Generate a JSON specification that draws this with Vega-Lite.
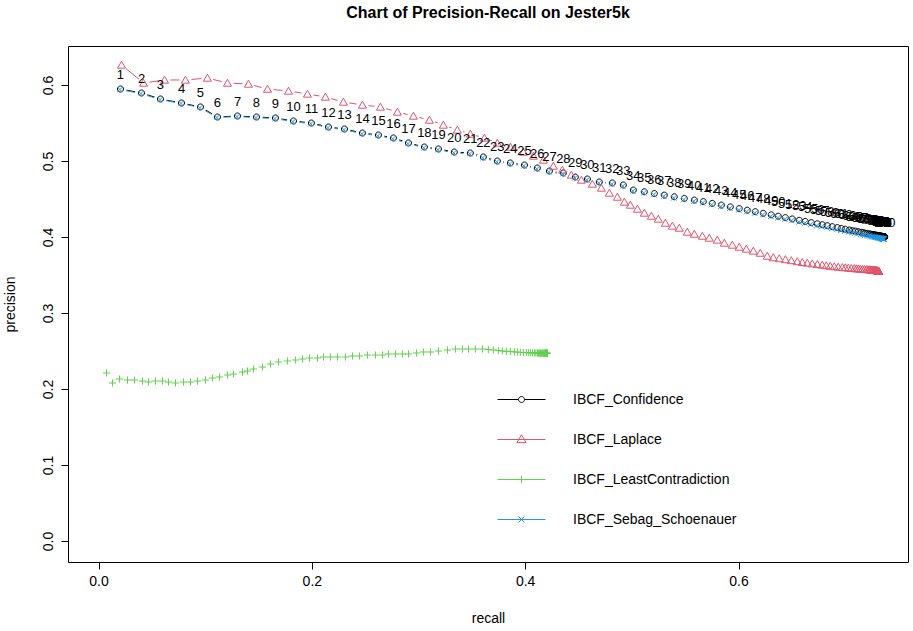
{
"$schema": "https://vega.github.io/schema/vega-lite/v6.json",
"width": 840, "height": 516,
"autosize": {"type": "none"},
"padding": {"left": 68, "top": 46, "right": 5, "bottom": 69},
"background": "white",
"title": {"text": "Chart of Precision-Recall on Jester5k", "font": "Liberation Sans", "fontSize": 16, "fontWeight": "bold", "anchor": "middle", "offset": 25, "color": "black"},
"config": {"view": {"stroke": "black", "strokeWidth": 1}, "font": "Liberation Sans"},
"data": {"values": [
{"s":"C","n":1,"r":0.0206,"p":0.5947},{"s":"C","n":2,"r":0.0403,"p":0.5895},{"s":"C","n":3,"r":0.0581,"p":0.5816},{"s":"C","n":4,"r":0.0778,"p":0.5763},{"s":"C","n":5,"r":0.0956,"p":0.5711},{"s":"C","n":6,"r":0.1115,"p":0.5579},{"s":"C","n":7,"r":0.1303,"p":0.5592},{"s":"C","n":8,"r":0.1481,"p":0.5579},{"s":"C","n":9,"r":0.1659,"p":0.5566},{"s":"C","n":10,"r":0.1828,"p":0.5526},
{"s":"C","n":11,"r":0.1996,"p":0.5500},{"s":"C","n":12,"r":0.2156,"p":0.5447},{"s":"C","n":13,"r":0.2306,"p":0.5421},{"s":"C","n":14,"r":0.2474,"p":0.5368},{"s":"C","n":15,"r":0.2624,"p":0.5342},{"s":"C","n":16,"r":0.2765,"p":0.5303},{"s":"C","n":17,"r":0.2906,"p":0.5237},{"s":"C","n":18,"r":0.3055,"p":0.5184},{"s":"C","n":19,"r":0.3187,"p":0.5158},{"s":"C","n":20,"r":0.3336,"p":0.5118},
{"s":"C","n":21,"r":0.3486,"p":0.5105},{"s":"C","n":22,"r":0.3608,"p":0.5053},{"s":"C","n":23,"r":0.3739,"p":0.5000},{"s":"C","n":24,"r":0.3861,"p":0.4974},{"s":"C","n":25,"r":0.3993,"p":0.4947},{"s":"C","n":26,"r":0.4114,"p":0.4908},{"s":"C","n":27,"r":0.4227,"p":0.4868},{"s":"C","n":28,"r":0.4358,"p":0.4842},{"s":"C","n":29,"r":0.4470,"p":0.4789},{"s":"C","n":30,"r":0.4583,"p":0.4763},
{"s":"C","n":31,"r":0.4695,"p":0.4724},{"s":"C","n":32,"r":0.4817,"p":0.4711},{"s":"C","n":33,"r":0.4920,"p":0.4684},{"s":"C","n":34,"r":0.5014,"p":0.4618},{"s":"C","n":35,"r":0.5117,"p":0.4595},{"s":"C","n":36,"r":0.5211,"p":0.4572},{"s":"C","n":37,"r":0.5304,"p":0.4551},{"s":"C","n":38,"r":0.5398,"p":0.4529},{"s":"C","n":39,"r":0.5492,"p":0.4508},{"s":"C","n":40,"r":0.5586,"p":0.4486},
{"s":"C","n":41,"r":0.5670,"p":0.4466},{"s":"C","n":42,"r":0.5754,"p":0.4443},{"s":"C","n":43,"r":0.5839,"p":0.4420},{"s":"C","n":44,"r":0.5923,"p":0.4396},{"s":"C","n":45,"r":0.6007,"p":0.4374},{"s":"C","n":46,"r":0.6082,"p":0.4353},{"s":"C","n":47,"r":0.6157,"p":0.4333},{"s":"C","n":48,"r":0.6232,"p":0.4312},{"s":"C","n":49,"r":0.6307,"p":0.4292},{"s":"C","n":50,"r":0.6373,"p":0.4274},
{"s":"C","n":51,"r":0.6439,"p":0.4255},{"s":"C","n":52,"r":0.6504,"p":0.4238},{"s":"C","n":53,"r":0.6570,"p":0.4220},{"s":"C","n":54,"r":0.6626,"p":0.4205},{"s":"C","n":55,"r":0.6682,"p":0.4189},{"s":"C","n":56,"r":0.6739,"p":0.4174},{"s":"C","n":57,"r":0.6785,"p":0.4162},{"s":"C","n":58,"r":0.6832,"p":0.4149},{"s":"C","n":59,"r":0.6879,"p":0.4136},{"s":"C","n":60,"r":0.6926,"p":0.4124},
{"s":"C","n":61,"r":0.6964,"p":0.4113},{"s":"C","n":62,"r":0.7001,"p":0.4103},{"s":"C","n":63,"r":0.7038,"p":0.4092},{"s":"C","n":64,"r":0.7067,"p":0.4084},{"s":"C","n":65,"r":0.7095,"p":0.4078},{"s":"C","n":66,"r":0.7123,"p":0.4070},{"s":"C","n":67,"r":0.7151,"p":0.4062},{"s":"C","n":68,"r":0.7170,"p":0.4057},{"s":"C","n":69,"r":0.7188,"p":0.4051},{"s":"C","n":70,"r":0.7207,"p":0.4046},
{"s":"C","n":71,"r":0.7226,"p":0.4042},{"s":"C","n":72,"r":0.7240,"p":0.4038},{"s":"C","n":73,"r":0.7254,"p":0.4034},{"s":"C","n":74,"r":0.7263,"p":0.4032},{"s":"C","n":75,"r":0.7273,"p":0.4029},{"s":"C","n":76,"r":0.7282,"p":0.4026},{"s":"C","n":77,"r":0.7291,"p":0.4024},{"s":"C","n":78,"r":0.7301,"p":0.4021},{"s":"C","n":79,"r":0.7307,"p":0.4020},{"s":"C","n":80,"r":0.7314,"p":0.4017},
{"s":"C","n":81,"r":0.7320,"p":0.4016},{"s":"C","n":82,"r":0.7325,"p":0.4014},{"s":"C","n":83,"r":0.7331,"p":0.4013},{"s":"C","n":84,"r":0.7336,"p":0.4012},{"s":"C","n":85,"r":0.7340,"p":0.4011},{"s":"C","n":86,"r":0.7344,"p":0.4009},{"s":"C","n":87,"r":0.7348,"p":0.4008},{"s":"C","n":88,"r":0.7351,"p":0.4007},{"s":"C","n":89,"r":0.7354,"p":0.4006},{"s":"C","n":90,"r":0.7357,"p":0.4005},
{"s":"C","n":91,"r":0.7359,"p":0.4005},{"s":"C","n":92,"r":0.7361,"p":0.4004},{"s":"C","n":93,"r":0.7363,"p":0.4004},{"s":"C","n":94,"r":0.7364,"p":0.4003},{"s":"C","n":95,"r":0.7366,"p":0.4003},{"s":"C","n":96,"r":0.7367,"p":0.4003},{"s":"C","n":97,"r":0.7368,"p":0.4002},{"s":"C","n":98,"r":0.7369,"p":0.4002},{"s":"C","n":99,"r":0.7370,"p":0.4002},{"s":"C","n":100,"r":0.7371,"p":0.4001},
{"s":"L","n":1,"r":0.0216,"p":0.6263},{"s":"L","n":2,"r":0.0422,"p":0.6026},{"s":"L","n":3,"r":0.0619,"p":0.6066},{"s":"L","n":4,"r":0.0815,"p":0.6066},{"s":"L","n":5,"r":0.1021,"p":0.6092},{"s":"L","n":6,"r":0.1209,"p":0.6026},{"s":"L","n":7,"r":0.1406,"p":0.6013},{"s":"L","n":8,"r":0.1584,"p":0.5947},{"s":"L","n":9,"r":0.1781,"p":0.5921},{"s":"L","n":10,"r":0.1959,"p":0.5882},
{"s":"L","n":11,"r":0.2127,"p":0.5842},{"s":"L","n":12,"r":0.2296,"p":0.5776},{"s":"L","n":13,"r":0.2474,"p":0.5737},{"s":"L","n":14,"r":0.2643,"p":0.5711},{"s":"L","n":15,"r":0.2802,"p":0.5645},{"s":"L","n":16,"r":0.2952,"p":0.5592},{"s":"L","n":17,"r":0.3102,"p":0.5539},{"s":"L","n":18,"r":0.3233,"p":0.5474},{"s":"L","n":19,"r":0.3364,"p":0.5408},{"s":"L","n":20,"r":0.3486,"p":0.5355},
{"s":"L","n":21,"r":0.3618,"p":0.5303},{"s":"L","n":22,"r":0.3739,"p":0.5237},{"s":"L","n":23,"r":0.3861,"p":0.5184},{"s":"L","n":24,"r":0.3983,"p":0.5118},{"s":"L","n":25,"r":0.4077,"p":0.5066},{"s":"L","n":26,"r":0.4171,"p":0.5013},{"s":"L","n":27,"r":0.4264,"p":0.4934},{"s":"L","n":28,"r":0.4349,"p":0.4882},{"s":"L","n":29,"r":0.4433,"p":0.4816},{"s":"L","n":30,"r":0.4527,"p":0.4750},
{"s":"L","n":31,"r":0.4630,"p":0.4697},{"s":"L","n":32,"r":0.4714,"p":0.4645},{"s":"L","n":33,"r":0.4789,"p":0.4579},{"s":"L","n":34,"r":0.4864,"p":0.4526},{"s":"L","n":35,"r":0.4930,"p":0.4461},{"s":"L","n":36,"r":0.4986,"p":0.4421},{"s":"L","n":37,"r":0.5052,"p":0.4368},{"s":"L","n":38,"r":0.5117,"p":0.4316},{"s":"L","n":39,"r":0.5183,"p":0.4276},{"s":"L","n":40,"r":0.5248,"p":0.4237},
{"s":"L","n":41,"r":0.5314,"p":0.4184},{"s":"L","n":42,"r":0.5380,"p":0.4145},{"s":"L","n":43,"r":0.5445,"p":0.4118},{"s":"L","n":44,"r":0.5520,"p":0.4066},{"s":"L","n":45,"r":0.5586,"p":0.4039},{"s":"L","n":46,"r":0.5661,"p":0.4013},{"s":"L","n":47,"r":0.5726,"p":0.3987},{"s":"L","n":48,"r":0.5801,"p":0.3961},{"s":"L","n":49,"r":0.5867,"p":0.3921},{"s":"L","n":50,"r":0.5942,"p":0.3895},
{"s":"L","n":51,"r":0.6007,"p":0.3868},{"s":"L","n":52,"r":0.6073,"p":0.3842},{"s":"L","n":53,"r":0.6139,"p":0.3816},{"s":"L","n":54,"r":0.6204,"p":0.3789},{"s":"L","n":55,"r":0.6270,"p":0.3750},{"s":"L","n":56,"r":0.6326,"p":0.3730},{"s":"L","n":57,"r":0.6382,"p":0.3717},{"s":"L","n":58,"r":0.6439,"p":0.3704},{"s":"L","n":59,"r":0.6495,"p":0.3691},{"s":"L","n":60,"r":0.6551,"p":0.3678},
{"s":"L","n":61,"r":0.6598,"p":0.3667},{"s":"L","n":62,"r":0.6645,"p":0.3658},{"s":"L","n":63,"r":0.6692,"p":0.3649},{"s":"L","n":64,"r":0.6739,"p":0.3641},{"s":"L","n":65,"r":0.6785,"p":0.3632},{"s":"L","n":66,"r":0.6823,"p":0.3625},{"s":"L","n":67,"r":0.6860,"p":0.3618},{"s":"L","n":68,"r":0.6898,"p":0.3612},{"s":"L","n":69,"r":0.6935,"p":0.3605},{"s":"L","n":70,"r":0.6973,"p":0.3601},
{"s":"L","n":71,"r":0.7001,"p":0.3597},{"s":"L","n":72,"r":0.7029,"p":0.3593},{"s":"L","n":73,"r":0.7057,"p":0.3589},{"s":"L","n":74,"r":0.7085,"p":0.3587},{"s":"L","n":75,"r":0.7104,"p":0.3584},{"s":"L","n":76,"r":0.7123,"p":0.3582},{"s":"L","n":77,"r":0.7141,"p":0.3579},{"s":"L","n":78,"r":0.7160,"p":0.3576},{"s":"L","n":79,"r":0.7179,"p":0.3575},{"s":"L","n":80,"r":0.7198,"p":0.3574},
{"s":"L","n":81,"r":0.7212,"p":0.3572},{"s":"L","n":82,"r":0.7226,"p":0.3571},{"s":"L","n":83,"r":0.7235,"p":0.3570},{"s":"L","n":84,"r":0.7245,"p":0.3568},{"s":"L","n":85,"r":0.7254,"p":0.3567},{"s":"L","n":86,"r":0.7263,"p":0.3566},{"s":"L","n":87,"r":0.7273,"p":0.3564},{"s":"L","n":88,"r":0.7280,"p":0.3563},{"s":"L","n":89,"r":0.7287,"p":0.3562},{"s":"L","n":90,"r":0.7291,"p":0.3561},
{"s":"L","n":91,"r":0.7296,"p":0.3559},{"s":"L","n":92,"r":0.7301,"p":0.3558},{"s":"L","n":93,"r":0.7303,"p":0.3557},{"s":"L","n":94,"r":0.7306,"p":0.3555},{"s":"L","n":95,"r":0.7308,"p":0.3554},{"s":"L","n":96,"r":0.7310,"p":0.3553},{"s":"L","n":97,"r":0.7312,"p":0.3553},{"s":"L","n":98,"r":0.7313,"p":0.3551},{"s":"L","n":99,"r":0.7314,"p":0.3551},{"s":"L","n":100,"r":0.7315,"p":0.3550},
{"s":"G","n":1,"r":0.0075,"p":0.2211},{"s":"G","n":2,"r":0.0131,"p":0.2079},{"s":"G","n":3,"r":0.0197,"p":0.2132},{"s":"G","n":4,"r":0.0272,"p":0.2118},{"s":"G","n":5,"r":0.0337,"p":0.2118},{"s":"G","n":6,"r":0.0412,"p":0.2105},{"s":"G","n":7,"r":0.0469,"p":0.2092},{"s":"G","n":8,"r":0.0534,"p":0.2105},{"s":"G","n":9,"r":0.0600,"p":0.2105},{"s":"G","n":10,"r":0.0656,"p":0.2092},
{"s":"G","n":11,"r":0.0722,"p":0.2079},{"s":"G","n":12,"r":0.0797,"p":0.2092},{"s":"G","n":13,"r":0.0862,"p":0.2092},{"s":"G","n":14,"r":0.0928,"p":0.2105},{"s":"G","n":15,"r":0.1003,"p":0.2118},{"s":"G","n":16,"r":0.1068,"p":0.2145},{"s":"G","n":17,"r":0.1134,"p":0.2158},{"s":"G","n":18,"r":0.1209,"p":0.2184},{"s":"G","n":19,"r":0.1265,"p":0.2197},{"s":"G","n":20,"r":0.1350,"p":0.2224},
{"s":"G","n":21,"r":0.1397,"p":0.2237},{"s":"G","n":22,"r":0.1453,"p":0.2263},{"s":"G","n":23,"r":0.1537,"p":0.2289},{"s":"G","n":24,"r":0.1612,"p":0.2329},{"s":"G","n":25,"r":0.1687,"p":0.2355},{"s":"G","n":26,"r":0.1771,"p":0.2368},{"s":"G","n":27,"r":0.1846,"p":0.2382},{"s":"G","n":28,"r":0.1912,"p":0.2395},{"s":"G","n":29,"r":0.1978,"p":0.2408},{"s":"G","n":30,"r":0.2053,"p":0.2408},
{"s":"G","n":31,"r":0.2109,"p":0.2421},{"s":"G","n":32,"r":0.2174,"p":0.2421},{"s":"G","n":33,"r":0.2240,"p":0.2421},{"s":"G","n":34,"r":0.2315,"p":0.2421},{"s":"G","n":35,"r":0.2381,"p":0.2434},{"s":"G","n":36,"r":0.2446,"p":0.2434},{"s":"G","n":37,"r":0.2521,"p":0.2447},{"s":"G","n":38,"r":0.2596,"p":0.2447},{"s":"G","n":39,"r":0.2662,"p":0.2447},{"s":"G","n":40,"r":0.2718,"p":0.2461},
{"s":"G","n":41,"r":0.2784,"p":0.2461},{"s":"G","n":42,"r":0.2849,"p":0.2461},{"s":"G","n":43,"r":0.2906,"p":0.2461},{"s":"G","n":44,"r":0.2981,"p":0.2474},{"s":"G","n":45,"r":0.3046,"p":0.2487},{"s":"G","n":46,"r":0.3112,"p":0.2487},{"s":"G","n":47,"r":0.3187,"p":0.2500},{"s":"G","n":48,"r":0.3271,"p":0.2513},{"s":"G","n":49,"r":0.3346,"p":0.2526},{"s":"G","n":50,"r":0.3411,"p":0.2526},
{"s":"G","n":51,"r":0.3468,"p":0.2526},{"s":"G","n":52,"r":0.3533,"p":0.2526},{"s":"G","n":53,"r":0.3599,"p":0.2526},{"s":"G","n":54,"r":0.3655,"p":0.2520},{"s":"G","n":55,"r":0.3702,"p":0.2513},{"s":"G","n":56,"r":0.3749,"p":0.2507},{"s":"G","n":57,"r":0.3786,"p":0.2500},{"s":"G","n":58,"r":0.3824,"p":0.2496},{"s":"G","n":59,"r":0.3861,"p":0.2492},{"s":"G","n":60,"r":0.3899,"p":0.2488},
{"s":"G","n":61,"r":0.3927,"p":0.2486},{"s":"G","n":62,"r":0.3955,"p":0.2483},{"s":"G","n":63,"r":0.3983,"p":0.2480},{"s":"G","n":64,"r":0.4011,"p":0.2479},{"s":"G","n":65,"r":0.4030,"p":0.2478},{"s":"G","n":66,"r":0.4049,"p":0.2476},{"s":"G","n":67,"r":0.4068,"p":0.2475},{"s":"G","n":68,"r":0.4086,"p":0.2474},{"s":"G","n":69,"r":0.4100,"p":0.2474},{"s":"G","n":70,"r":0.4115,"p":0.2474},
{"s":"G","n":71,"r":0.4124,"p":0.2472},{"s":"G","n":72,"r":0.4133,"p":0.2472},{"s":"G","n":73,"r":0.4143,"p":0.2472},{"s":"G","n":74,"r":0.4152,"p":0.2471},{"s":"G","n":75,"r":0.4160,"p":0.2471},{"s":"G","n":76,"r":0.4166,"p":0.2471},{"s":"G","n":77,"r":0.4173,"p":0.2471},{"s":"G","n":78,"r":0.4179,"p":0.2470},{"s":"G","n":79,"r":0.4183,"p":0.2470},{"s":"G","n":80,"r":0.4187,"p":0.2470},
{"s":"G","n":81,"r":0.4189,"p":0.2470},{"s":"G","n":82,"r":0.4191,"p":0.2470},{"s":"G","n":83,"r":0.4192,"p":0.2469},{"s":"G","n":84,"r":0.4194,"p":0.2469},{"s":"G","n":85,"r":0.4195,"p":0.2469},{"s":"G","n":86,"r":0.4196,"p":0.2469},{"s":"G","n":87,"r":0.4197,"p":0.2469},{"s":"G","n":88,"r":0.4198,"p":0.2469},{"s":"G","n":89,"r":0.4199,"p":0.2469},{"s":"G","n":90,"r":0.4200,"p":0.2468},
{"s":"G","n":91,"r":0.4201,"p":0.2468},{"s":"G","n":92,"r":0.4202,"p":0.2468},{"s":"G","n":93,"r":0.4203,"p":0.2468},{"s":"G","n":94,"r":0.4204,"p":0.2468},{"s":"G","n":95,"r":0.4205,"p":0.2468},{"s":"G","n":96,"r":0.4206,"p":0.2468},{"s":"G","n":97,"r":0.4207,"p":0.2468},{"s":"G","n":98,"r":0.4207,"p":0.2468},{"s":"G","n":99,"r":0.4208,"p":0.2468},{"s":"G","n":100,"r":0.4208,"p":0.2468},
{"s":"S","n":1,"r":0.0201,"p":0.5940},{"s":"S","n":2,"r":0.0398,"p":0.5887},{"s":"S","n":3,"r":0.0577,"p":0.5808},{"s":"S","n":4,"r":0.0773,"p":0.5757},{"s":"S","n":5,"r":0.0951,"p":0.5702},{"s":"S","n":6,"r":0.1110,"p":0.5572},{"s":"S","n":7,"r":0.1298,"p":0.5584},{"s":"S","n":8,"r":0.1476,"p":0.5571},{"s":"S","n":9,"r":0.1654,"p":0.5558},{"s":"S","n":10,"r":0.1823,"p":0.5518},
{"s":"S","n":11,"r":0.1991,"p":0.5491},{"s":"S","n":12,"r":0.2151,"p":0.5439},{"s":"S","n":13,"r":0.2301,"p":0.5412},{"s":"S","n":14,"r":0.2469,"p":0.5360},{"s":"S","n":15,"r":0.2619,"p":0.5333},{"s":"S","n":16,"r":0.2760,"p":0.5294},{"s":"S","n":17,"r":0.2901,"p":0.5229},{"s":"S","n":18,"r":0.3050,"p":0.5175},{"s":"S","n":19,"r":0.3182,"p":0.5149},{"s":"S","n":20,"r":0.3331,"p":0.5108},
{"s":"S","n":21,"r":0.3481,"p":0.5096},{"s":"S","n":22,"r":0.3603,"p":0.5043},{"s":"S","n":23,"r":0.3734,"p":0.4990},{"s":"S","n":24,"r":0.3856,"p":0.4964},{"s":"S","n":25,"r":0.3988,"p":0.4936},{"s":"S","n":26,"r":0.4109,"p":0.4897},{"s":"S","n":27,"r":0.4222,"p":0.4857},{"s":"S","n":28,"r":0.4353,"p":0.4831},{"s":"S","n":29,"r":0.4465,"p":0.4778},{"s":"S","n":30,"r":0.4578,"p":0.4751},
{"s":"S","n":31,"r":0.4690,"p":0.4712},{"s":"S","n":32,"r":0.4812,"p":0.4698},{"s":"S","n":33,"r":0.4915,"p":0.4671},{"s":"S","n":34,"r":0.5009,"p":0.4605},{"s":"S","n":35,"r":0.5112,"p":0.4581},{"s":"S","n":36,"r":0.5206,"p":0.4558},{"s":"S","n":37,"r":0.5299,"p":0.4536},{"s":"S","n":38,"r":0.5393,"p":0.4514},{"s":"S","n":39,"r":0.5487,"p":0.4492},{"s":"S","n":40,"r":0.5581,"p":0.4470},
{"s":"S","n":41,"r":0.5665,"p":0.4449},{"s":"S","n":42,"r":0.5749,"p":0.4426},{"s":"S","n":43,"r":0.5834,"p":0.4402},{"s":"S","n":44,"r":0.5918,"p":0.4378},{"s":"S","n":45,"r":0.6002,"p":0.4355},{"s":"S","n":46,"r":0.6077,"p":0.4334},{"s":"S","n":47,"r":0.6152,"p":0.4314},{"s":"S","n":48,"r":0.6227,"p":0.4292},{"s":"S","n":49,"r":0.6302,"p":0.4271},{"s":"S","n":50,"r":0.6368,"p":0.4253},
{"s":"S","n":51,"r":0.6434,"p":0.4233},{"s":"S","n":52,"r":0.6499,"p":0.4216},{"s":"S","n":53,"r":0.6565,"p":0.4197},{"s":"S","n":54,"r":0.6621,"p":0.4182},{"s":"S","n":55,"r":0.6677,"p":0.4165},{"s":"S","n":56,"r":0.6734,"p":0.4150},{"s":"S","n":57,"r":0.6780,"p":0.4137},{"s":"S","n":58,"r":0.6827,"p":0.4124},{"s":"S","n":59,"r":0.6874,"p":0.4110},{"s":"S","n":60,"r":0.6921,"p":0.4098},
{"s":"S","n":61,"r":0.6959,"p":0.4087},{"s":"S","n":62,"r":0.6996,"p":0.4076},{"s":"S","n":63,"r":0.7033,"p":0.4065},{"s":"S","n":64,"r":0.7062,"p":0.4057},{"s":"S","n":65,"r":0.7090,"p":0.4050},{"s":"S","n":66,"r":0.7118,"p":0.4042},{"s":"S","n":67,"r":0.7146,"p":0.4034},{"s":"S","n":68,"r":0.7165,"p":0.4029},{"s":"S","n":69,"r":0.7183,"p":0.4023},{"s":"S","n":70,"r":0.7202,"p":0.4018},
{"s":"S","n":71,"r":0.7221,"p":0.4014},{"s":"S","n":72,"r":0.7235,"p":0.4010},{"s":"S","n":73,"r":0.7249,"p":0.4006},{"s":"S","n":74,"r":0.7258,"p":0.4004},{"s":"S","n":75,"r":0.7268,"p":0.4001},{"s":"S","n":76,"r":0.7277,"p":0.3998},{"s":"S","n":77,"r":0.7286,"p":0.3996},{"s":"S","n":78,"r":0.7296,"p":0.3993},{"s":"S","n":79,"r":0.7302,"p":0.3992},{"s":"S","n":80,"r":0.7309,"p":0.3989},
{"s":"S","n":81,"r":0.7315,"p":0.3988},{"s":"S","n":82,"r":0.7320,"p":0.3986},{"s":"S","n":83,"r":0.7326,"p":0.3985},{"s":"S","n":84,"r":0.7331,"p":0.3984},{"s":"S","n":85,"r":0.7335,"p":0.3983},{"s":"S","n":86,"r":0.7339,"p":0.3981},{"s":"S","n":87,"r":0.7343,"p":0.3980},{"s":"S","n":88,"r":0.7346,"p":0.3979},{"s":"S","n":89,"r":0.7349,"p":0.3978},{"s":"S","n":90,"r":0.7352,"p":0.3977},
{"s":"S","n":91,"r":0.7354,"p":0.3977},{"s":"S","n":92,"r":0.7356,"p":0.3976},{"s":"S","n":93,"r":0.7358,"p":0.3976},{"s":"S","n":94,"r":0.7359,"p":0.3975},{"s":"S","n":95,"r":0.7361,"p":0.3975},{"s":"S","n":96,"r":0.7362,"p":0.3975},{"s":"S","n":97,"r":0.7363,"p":0.3974},{"s":"S","n":98,"r":0.7364,"p":0.3974},{"s":"S","n":99,"r":0.7365,"p":0.3974},{"s":"S","n":100,"r":0.7366,"p":0.3973}
]},
"encoding": {
  "x": {"field": "r", "type": "quantitative",
        "scale": {"domain": [-0.0286, 0.7589], "nice": false, "zero": false},
        "axis": {"values": [0, 0.2, 0.4, 0.6], "format": ".1f", "grid": false, "domain": false, "tickColor": "black", "tickSize": 7, "labelFont": "Liberation Sans", "labelFontSize": 14, "labelColor": "black", "labelPadding": 5, "labelFlush": false, "title": "recall", "titleFont": "Liberation Sans", "titleFontSize": 14, "titleFontWeight": "normal", "titleColor": "black", "titlePadding": 23}},
  "y": {"field": "p", "type": "quantitative",
        "scale": {"domain": [-0.0276, 0.6513], "nice": false, "zero": false},
        "axis": {"values": [0, 0.1, 0.2, 0.3, 0.4, 0.5, 0.6], "format": ".1f", "grid": false, "domain": false, "tickColor": "black", "tickSize": 7, "labelFont": "Liberation Sans", "labelFontSize": 14, "labelColor": "black", "labelAngle": -90, "labelAlign": "center", "labelBaseline": "bottom", "labelPadding": 6, "labelFlush": false, "labelOverlap": false, "title": "precision", "titleFont": "Liberation Sans", "titleFontSize": 14, "titleFontWeight": "normal", "titleColor": "black", "titlePadding": 24}}
},
"layer": [
  {"mark": {"type": "line", "strokeWidth": 1},
   "encoding": {
     "color": {"field": "s", "type": "nominal",
       "scale": {"domain": ["C", "L", "G", "S"], "range": ["#000000", "#DF536B", "#61D04F", "#2297E6"]},
       "legend": {"title": null, "orient": "none", "legendX": 429, "legendY": 329, "padding": 0, "symbolSize": 2304, "symbolStrokeWidth": 1, "symbolFillColor": "transparent", "labelFont": "Liberation Sans", "labelFontSize": 14, "labelColor": "black", "labelOffset": 27, "labelLimit": 400, "rowPadding": 8,
         "labelExpr": "datum.label === 'C' ? 'IBCF_Confidence' : datum.label === 'L' ? 'IBCF_Laplace' : datum.label === 'G' ? 'IBCF_LeastContradiction' : 'IBCF_Sebag_Schoenauer'",
         "encode": {"symbols": {"update": {
           "shape": {"signal": "datum.value === 'C' ? 'M-1,0L-0.125,0M0.125,0L1,0M-0.125,0A0.125,0.125,0,1,0,0.125,0A0.125,0.125,0,1,0,-0.125,0' : datum.value === 'L' ? 'M-1,0L1,0M0,-0.2L0.19,0.13L-0.19,0.13Z' : datum.value === 'G' ? 'M-1,0L1,0M0,-0.16L0,0.16' : 'M-1,0L1,0M-0.12,-0.12L0.12,0.12M-0.12,0.12L0.12,-0.12'"},
           "stroke": {"signal": "datum.value === 'C' ? '#000000' : datum.value === 'L' ? '#DF536B' : datum.value === 'G' ? '#61D04F' : '#2297E6'"},
           "fill": {"value": "transparent"},
           "strokeWidth": {"value": 1},
           "opacity": {"value": 1}}}}}},
     "order": {"field": "n", "type": "quantitative"}}},
  {"mark": {"type": "point", "filled": true, "shape": "circle", "size": 150, "fill": "white", "strokeWidth": 0, "opacity": 1}},
  {"mark": {"type": "point", "filled": false, "size": 64, "strokeWidth": 1, "opacity": 1},
   "encoding": {
     "color": {"field": "s", "type": "nominal", "legend": null},
     "shape": {"condition": [
        {"test": "datum.s === 'L'", "value": "M0,-0.95L1,0.8L-1,0.8Z"},
        {"test": "datum.s === 'G'", "value": "M-0.9,0L0.9,0M0,-0.9L0,0.9"},
        {"test": "datum.s === 'S'", "value": "M-0.65,-0.65L0.65,0.65M-0.65,0.65L0.65,-0.65"}],
       "value": "M-0.75,0A0.75,0.75,0,1,0,0.75,0A0.75,0.75,0,1,0,-0.75,0"}}},
  {"transform": [{"filter": "datum.s === 'C'"}],
   "mark": {"type": "text", "dy": -14, "baseline": "middle", "align": "center", "font": "Liberation Sans", "fontSize": 13, "color": "black"},
   "encoding": {"text": {"field": "n", "type": "nominal"}}}
]
}
